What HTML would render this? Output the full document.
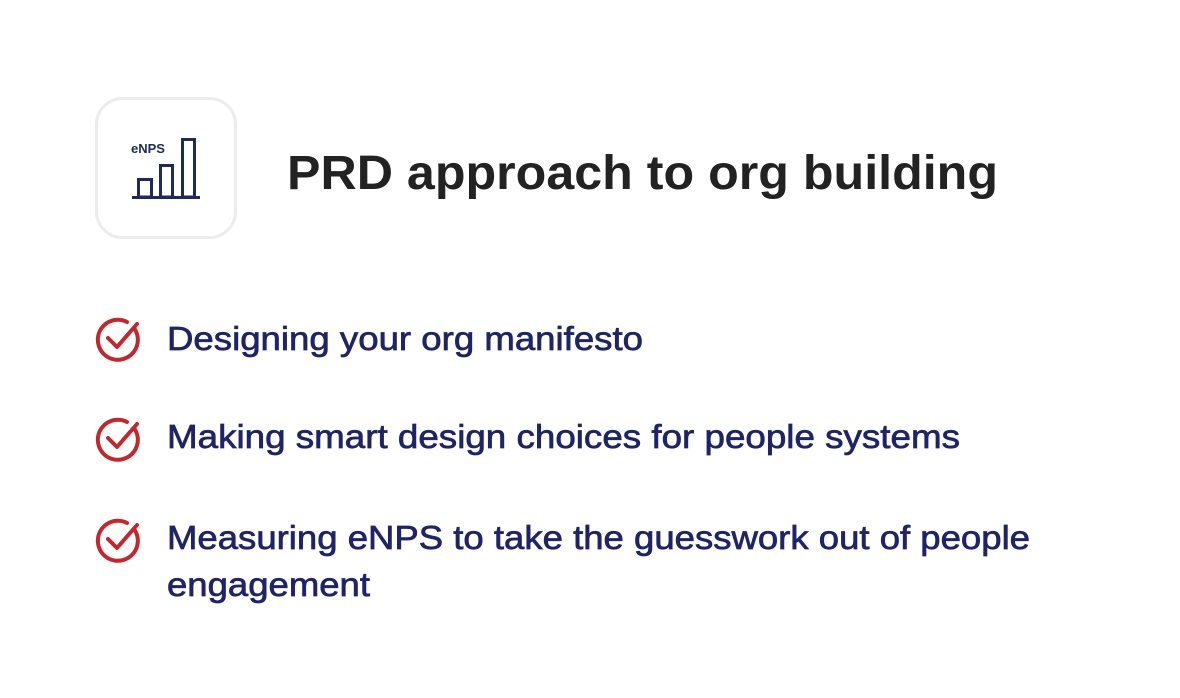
<!DOCTYPE html>
<html><head><meta charset="utf-8"><style>
html,body{margin:0;padding:0;background:#fff;width:1180px;height:698px;overflow:hidden}
svg{display:block}
text{font-family:"Liberation Sans",sans-serif}
</style></head><body>
<svg width="1180" height="698" viewBox="0 0 1180 698">
<g>
<rect x="96.5" y="98.5" width="139" height="139" rx="26" fill="#fff" stroke="#ececec" stroke-width="3"/>
<text x="131" y="153" font-size="13" font-weight="bold" fill="#1f2a5c">eNPS</text>
<g fill="none" stroke="#1f2a5c" stroke-width="3">
<rect x="138.5" y="179.5" width="13" height="17.5"/>
<rect x="160.5" y="165.5" width="12" height="31.5"/>
<rect x="182.5" y="139.5" width="12" height="57.5"/>
<line x1="132" y1="197.5" x2="200" y2="197.5"/>
</g>
</g>
<text x="287" y="189" font-size="48" font-weight="bold" fill="#222" textLength="711" lengthAdjust="spacingAndGlyphs">PRD approach to org building</text>
<g fill="none" stroke="#c1272d" stroke-width="4" stroke-linecap="round" stroke-linejoin="round">
<g><path d="M134 328 A20 20 0 1 1 127 322"/><path d="M108 338 L117 347 L137 324"/></g>
<g><path d="M134 428 A20 20 0 1 1 127 422"/><path d="M108 438 L117 447 L137 424"/></g>
<g><path d="M134 529 A20 20 0 1 1 127 523"/><path d="M108 539 L117 548 L137 525"/></g>
</g>
<g fill="#1f2466" stroke="#1f2466" stroke-width="0.7" font-size="33">
<text x="167" y="350" textLength="476" lengthAdjust="spacingAndGlyphs">Designing your org manifesto</text>
<text x="167" y="448" textLength="793" lengthAdjust="spacingAndGlyphs">Making smart design choices for people systems</text>
<text x="167" y="549" textLength="863" lengthAdjust="spacingAndGlyphs">Measuring eNPS to take the guesswork out of people</text>
<text x="167" y="596" textLength="203" lengthAdjust="spacingAndGlyphs">engagement</text>
</g>
</svg>
</body></html>
